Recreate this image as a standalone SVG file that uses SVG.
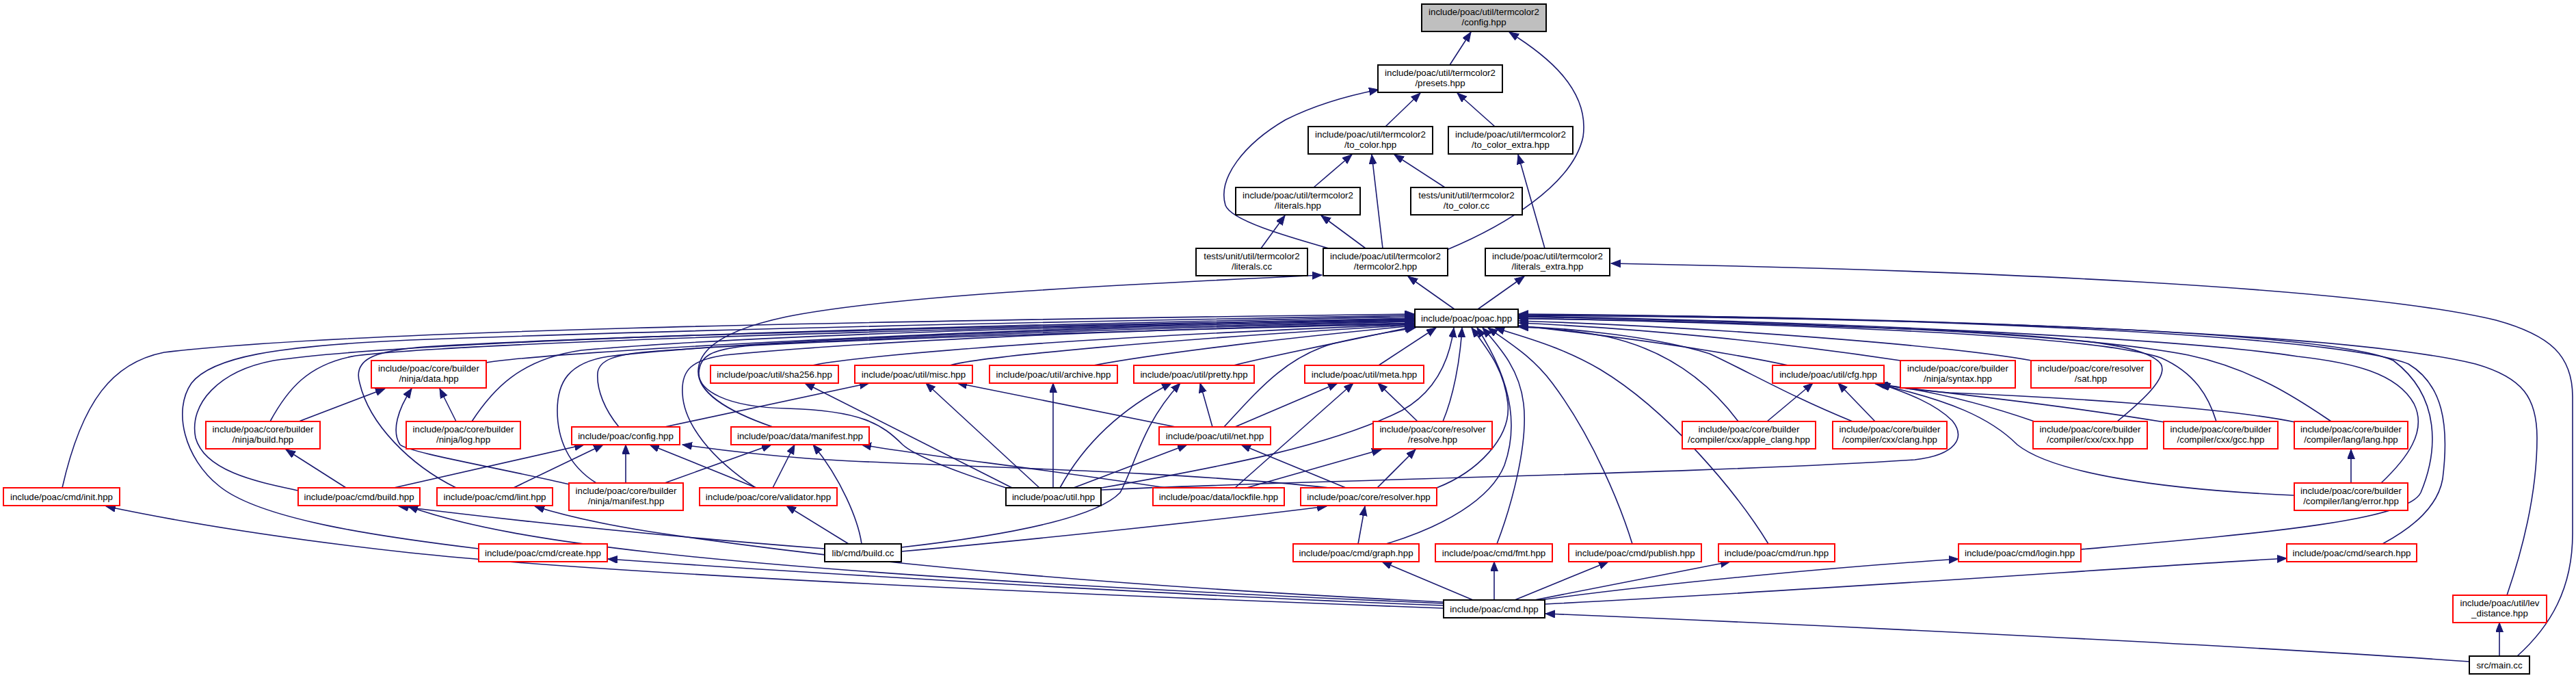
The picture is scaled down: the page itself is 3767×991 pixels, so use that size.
<svg xmlns="http://www.w3.org/2000/svg" width="3767" height="991" viewBox="0 0 3767 991">
<style>
.n rect{fill:#fff;stroke:#ff0000;stroke-width:2}
.n.b rect{stroke:#000}
.n.g rect{fill:#bfbfbf;stroke:#000}
text{font-family:"Liberation Sans",Arial,sans-serif;font-size:13.3px;text-anchor:middle;fill:#000}
#edges path{fill:none;stroke:#191970;stroke-width:1.6;marker-end:url(#ah)}
</style>
<defs>
<marker id="ah" markerUnits="userSpaceOnUse" markerWidth="16" markerHeight="12" refX="14" refY="5.5" orient="auto"><path d="M0,0 L14,5.5 L0,11 z" fill="#191970" stroke="#191970" stroke-width="1"/></marker>
</defs>
<rect width="3767" height="991" fill="#fff"/>
<g id="edges">
<path d="M2120,95 L2151,47"/>
<path d="M2116,365 C2200,330 2300,270 2315,200 C2325,130 2260,80 2207,47"/>
<path d="M2026,185 L2077,136"/>
<path d="M2186,185 L2131,136"/>
<path d="M1943,363 C1880,345 1800,322 1792,300 C1780,260 1820,210 1880,175 C1930,150 1980,138 2016,131"/>
<path d="M1921,274 L1977,226"/>
<path d="M2022,363 L2006,226"/>
<path d="M2113,274 L2039,226"/>
<path d="M2259,363 L2220,226"/>
<path d="M1844,363 L1879,315"/>
<path d="M1997,363 L1932,315"/>
<path d="M2127,452 L2059,404"/>
<path d="M2161,452 L2229,404"/>
<path d="M3681,959 C3730,915 3762,860 3762,780 L3762,580 C3762,520 3730,490 3650,468 C3450,420 2900,395 2356,385"/>
<path d="M91,713 C120,585 165,530 240,515 C500,484 1200,470 2068,459"/>
<path d="M700,802 C560,785 380,760 320,710 C270,670 252,600 280,560 C310,522 400,506 600,497 C1000,482 1600,469 2068,461"/>
<path d="M436,717 C380,705 300,690 286,640 C276,590 320,542 400,527 C600,497 1400,476 2068,463"/>
<path d="M395,616 C420,570 450,532 520,520 C700,498 1500,478 2068,465"/>
<path d="M667,713 C600,680 540,620 526,560 C516,526 545,513 620,507 C900,490 1500,476 2068,466"/>
<path d="M711,530 C800,515 1400,480 2068,467"/>
<path d="M690,616 C720,570 760,525 850,512 C1100,490 1600,476 2068,468"/>
<path d="M872,706 C830,680 815,640 815,600 C815,560 830,530 890,521 C1100,496 1600,479 2068,469"/>
<path d="M905,624 C885,600 872,570 874,545 C876,526 900,518 950,514 C1200,495 1700,479 2068,470"/>
<path d="M1105,713 C1040,670 1000,620 998,575 C996,540 1012,526 1060,519 C1300,496 1700,481 2068,472"/>
<path d="M1471,713 C1400,690 1340,668 1320,650 C1290,620 1260,600 1150,597 C1060,595 1021,570 1022,545 C1023,520 1040,510 1100,505 C1400,490 1800,480 2068,473"/>
<path d="M1130,624 C1060,600 1020,572 1021,542 C1022,510 1060,482 1150,463 C1300,433 1600,418 1933,402"/>
<path d="M1188,534 C1230,524 1500,496 2068,474"/>
<path d="M1389,534 C1430,522 1700,496 2068,475"/>
<path d="M1599,534 C1700,515 1900,492 2068,476"/>
<path d="M1804,534 C1880,515 1980,497 2068,477"/>
<path d="M1790,624 C1840,570 1880,522 1950,502 C2000,490 2040,484 2070,479"/>
<path d="M2016,534 L2100,479"/>
<path d="M2110,616 C2125,580 2135,530 2138,479"/>
<path d="M2101,713 C2160,690 2210,640 2205,590 C2200,540 2175,510 2152,479"/>
<path d="M1611,713 C1800,680 1950,650 2050,600 C2100,572 2120,525 2126,479"/>
<path d="M2027,795 C2110,770 2180,730 2200,680 C2225,610 2200,540 2160,479"/>
<path d="M2189,795 C2210,740 2235,650 2228,590 C2222,540 2195,510 2168,479"/>
<path d="M2387,795 C2370,740 2330,640 2270,560 C2240,520 2205,500 2176,479"/>
<path d="M2586,795 C2540,720 2440,600 2340,540 C2280,505 2225,492 2186,479"/>
<path d="M2615,534 C2500,510 2350,490 2221,476"/>
<path d="M2779,527 C2600,500 2400,480 2221,472"/>
<path d="M2971,527 C2850,505 2500,478 2221,469"/>
<path d="M2542,616 C2500,560 2440,512 2350,492 C2300,482 2260,479 2221,478"/>
<path d="M2709,616 C2620,580 2560,545 2500,517 C2420,492 2300,480 2221,477"/>
<path d="M3096,616 C3140,580 3170,550 3160,532 C3140,505 3050,495 2850,483 C2600,474 2400,467 2221,466"/>
<path d="M3241,616 C3230,580 3210,545 3160,523 C3080,496 2800,478 2221,465"/>
<path d="M3409,616 C3370,590 3300,540 3200,519 C3050,490 2700,472 2221,463"/>
<path d="M3482,706 C3520,670 3550,630 3530,590 C3505,545 3440,530 3360,521 C3200,496 2700,470 2221,462"/>
<path d="M3043,803 C3300,780 3520,762 3540,720 C3565,660 3570,580 3500,527 C3400,482 2800,465 2221,461"/>
<path d="M3484,795 C3530,770 3565,740 3572,700 C3582,620 3572,562 3522,532 C3420,490 2800,462 2221,460"/>
<path d="M3666,870 C3690,800 3710,720 3710,640 C3710,582 3690,552 3620,532 C3450,490 2900,465 2221,459"/>
<path d="M437,616 L563,568"/>
<path d="M667,616 L643,568"/>
<path d="M833,708 C720,682 600,662 585,650 C572,630 582,598 602,568"/>
<path d="M506,713 L418,657"/>
<path d="M576,713 L854,650"/>
<path d="M751,713 L882,650"/>
<path d="M915,706 L915,650"/>
<path d="M1106,713 L950,650"/>
<path d="M1944,713 C1700,686 1300,680 1180,670 C1100,664 1040,656 998,650"/>
<path d="M972,624 L1271,560"/>
<path d="M972,706 L1128,650"/>
<path d="M1130,713 L1162,650"/>
<path d="M1260,795 C1255,760 1230,700 1189,650"/>
<path d="M1705,713 C1500,682 1350,666 1260,650"/>
<path d="M1480,713 L1177,560"/>
<path d="M1520,713 L1354,560"/>
<path d="M1540,713 L1540,560"/>
<path d="M1550,713 C1590,640 1650,592 1713,560"/>
<path d="M1570,713 L1736,650"/>
<path d="M1611,716 C1900,702 2500,692 2800,672 C2860,665 2875,640 2855,615 C2830,590 2790,575 2750,561"/>
<path d="M1719,624 L1400,560"/>
<path d="M1773,624 L1755,560"/>
<path d="M1806,624 L1956,560"/>
<path d="M1318,800 C1450,785 1600,760 1638,720 C1660,680 1670,620 1726,560"/>
<path d="M1241,795 L1150,739"/>
<path d="M1206,802 C1000,786 800,767 583,740"/>
<path d="M1318,806 C1500,790 1800,758 1940,740"/>
<path d="M1806,713 L1979,560"/>
<path d="M1823,713 L2020,657"/>
<path d="M2073,616 L2015,560"/>
<path d="M1968,713 L1815,650"/>
<path d="M2014,713 L2070,657"/>
<path d="M1986,795 L1996,740"/>
<path d="M2111,889 C1600,870 900,840 600,808 C400,786 250,760 155,740"/>
<path d="M2111,882 C1600,860 1200,835 950,807 C800,790 680,770 597,740"/>
<path d="M2111,880 C1700,860 1300,830 950,777 C880,766 830,755 782,740"/>
<path d="M2111,885 C1700,870 1100,832 889,817"/>
<path d="M2154,877 L2021,821"/>
<path d="M2185,877 L2185,821"/>
<path d="M2215,877 L2352,821"/>
<path d="M2244,877 L2530,821"/>
<path d="M2252,877 C2450,850 2700,828 2864,817"/>
<path d="M2259,883 C2700,860 3100,830 3344,816"/>
<path d="M3611,967 C3300,945 2700,915 2260,897"/>
<path d="M3655,959 L3655,910"/>
<path d="M2584,616 L2651,560"/>
<path d="M2742,616 L2688,560"/>
<path d="M2975,616 C2900,590 2820,570 2742,561"/>
<path d="M3165,617 C3000,590 2850,575 2745,562"/>
<path d="M3356,617 C3250,595 3000,580 2850,574 C2800,570 2770,566 2746,561"/>
<path d="M3355,724 C3150,715 3000,690 2950,650 C2910,610 2850,585 2748,562"/>
<path d="M3438,706 L3438,657"/>
</g>
<g id="tc_config" class="n g"><rect x="2079" y="6" width="182" height="40"/><text x="2170" y="22">include/poac/util/termcolor2</text><text x="2170" y="37">/config.hpp</text></g>
<g id="tc_presets" class="n b"><rect x="2015" y="95" width="182" height="40"/><text x="2106" y="111">include/poac/util/termcolor2</text><text x="2106" y="126">/presets.hpp</text></g>
<g id="tc_to_color" class="n b"><rect x="1913" y="185" width="182" height="40"/><text x="2004" y="201">include/poac/util/termcolor2</text><text x="2004" y="216">/to_color.hpp</text></g>
<g id="tc_to_color_extra" class="n b"><rect x="2118" y="185" width="182" height="40"/><text x="2209" y="201">include/poac/util/termcolor2</text><text x="2209" y="216">/to_color_extra.hpp</text></g>
<g id="tc_literals" class="n b"><rect x="1807" y="274" width="182" height="40"/><text x="1898" y="290">include/poac/util/termcolor2</text><text x="1898" y="305">/literals.hpp</text></g>
<g id="tc_to_color_cc" class="n b"><rect x="2063" y="274" width="163" height="40"/><text x="2144.5" y="290">tests/unit/util/termcolor2</text><text x="2144.5" y="305">/to_color.cc</text></g>
<g id="tc_literals_cc" class="n b"><rect x="1749" y="363" width="163" height="40"/><text x="1830.5" y="379">tests/unit/util/termcolor2</text><text x="1830.5" y="394">/literals.cc</text></g>
<g id="tc_termcolor2" class="n b"><rect x="1935" y="363" width="182" height="40"/><text x="2026" y="379">include/poac/util/termcolor2</text><text x="2026" y="394">/termcolor2.hpp</text></g>
<g id="tc_literals_extra" class="n b"><rect x="2172" y="363" width="182" height="40"/><text x="2263" y="379">include/poac/util/termcolor2</text><text x="2263" y="394">/literals_extra.hpp</text></g>
<g id="poac_hpp" class="n b"><rect x="2069" y="452" width="151" height="26"/><text x="2144.5" y="469.5">include/poac/poac.hpp</text></g>
<g id="ninja_data" class="n"><rect x="543" y="527" width="168" height="40"/><text x="627" y="543">include/poac/core/builder</text><text x="627" y="558">/ninja/data.hpp</text></g>
<g id="sha256" class="n"><rect x="1039" y="534" width="187" height="26"/><text x="1132.5" y="551.5">include/poac/util/sha256.hpp</text></g>
<g id="misc" class="n"><rect x="1250" y="534" width="172" height="26"/><text x="1336" y="551.5">include/poac/util/misc.hpp</text></g>
<g id="archive" class="n"><rect x="1447" y="534" width="187" height="26"/><text x="1540.5" y="551.5">include/poac/util/archive.hpp</text></g>
<g id="pretty" class="n"><rect x="1658" y="534" width="176" height="26"/><text x="1746" y="551.5">include/poac/util/pretty.hpp</text></g>
<g id="meta" class="n"><rect x="1908" y="534" width="174" height="26"/><text x="1995" y="551.5">include/poac/util/meta.hpp</text></g>
<g id="cfg" class="n"><rect x="2592" y="534" width="163" height="26"/><text x="2673.5" y="551.5">include/poac/util/cfg.hpp</text></g>
<g id="ninja_syntax" class="n"><rect x="2779" y="527" width="168" height="40"/><text x="2863" y="543">include/poac/core/builder</text><text x="2863" y="558">/ninja/syntax.hpp</text></g>
<g id="resolver_sat" class="n"><rect x="2970" y="527" width="175" height="40"/><text x="3057.5" y="543">include/poac/core/resolver</text><text x="3057.5" y="558">/sat.hpp</text></g>
<g id="ninja_build" class="n"><rect x="301" y="616" width="167" height="40"/><text x="384.5" y="632">include/poac/core/builder</text><text x="384.5" y="647">/ninja/build.hpp</text></g>
<g id="ninja_log" class="n"><rect x="594" y="616" width="167" height="40"/><text x="677.5" y="632">include/poac/core/builder</text><text x="677.5" y="647">/ninja/log.hpp</text></g>
<g id="config" class="n"><rect x="836" y="624" width="158" height="26"/><text x="915" y="641.5">include/poac/config.hpp</text></g>
<g id="data_manifest" class="n"><rect x="1069" y="624" width="202" height="26"/><text x="1170" y="641.5">include/poac/data/manifest.hpp</text></g>
<g id="net" class="n"><rect x="1695" y="624" width="163" height="26"/><text x="1776.5" y="641.5">include/poac/util/net.hpp</text></g>
<g id="resolver_resolve" class="n"><rect x="2008" y="616" width="174" height="40"/><text x="2095" y="632">include/poac/core/resolver</text><text x="2095" y="647">/resolve.hpp</text></g>
<g id="apple_clang" class="n"><rect x="2460" y="616" width="195" height="40"/><text x="2557.5" y="632">include/poac/core/builder</text><text x="2557.5" y="647">/compiler/cxx/apple_clang.hpp</text></g>
<g id="clang" class="n"><rect x="2680" y="616" width="167" height="40"/><text x="2763.5" y="632">include/poac/core/builder</text><text x="2763.5" y="647">/compiler/cxx/clang.hpp</text></g>
<g id="cxx" class="n"><rect x="2973" y="616" width="167" height="40"/><text x="3056.5" y="632">include/poac/core/builder</text><text x="3056.5" y="647">/compiler/cxx/cxx.hpp</text></g>
<g id="gcc" class="n"><rect x="3164" y="616" width="167" height="40"/><text x="3247.5" y="632">include/poac/core/builder</text><text x="3247.5" y="647">/compiler/cxx/gcc.hpp</text></g>
<g id="lang" class="n"><rect x="3355" y="616" width="166" height="40"/><text x="3438" y="632">include/poac/core/builder</text><text x="3438" y="647">/compiler/lang/lang.hpp</text></g>
<g id="cmd_init" class="n"><rect x="5" y="713" width="170" height="26"/><text x="90" y="730.5">include/poac/cmd/init.hpp</text></g>
<g id="cmd_build" class="n"><rect x="436" y="713" width="178" height="26"/><text x="525" y="730.5">include/poac/cmd/build.hpp</text></g>
<g id="cmd_lint" class="n"><rect x="639" y="713" width="169" height="26"/><text x="723.5" y="730.5">include/poac/cmd/lint.hpp</text></g>
<g id="ninja_manifest" class="n"><rect x="832" y="706" width="167" height="40"/><text x="915.5" y="722">include/poac/core/builder</text><text x="915.5" y="737">/ninja/manifest.hpp</text></g>
<g id="validator" class="n"><rect x="1023" y="713" width="201" height="26"/><text x="1123.5" y="730.5">include/poac/core/validator.hpp</text></g>
<g id="util_hpp" class="n b"><rect x="1471" y="713" width="139" height="26"/><text x="1540.5" y="730.5">include/poac/util.hpp</text></g>
<g id="lockfile" class="n"><rect x="1686" y="713" width="192" height="26"/><text x="1782" y="730.5">include/poac/data/lockfile.hpp</text></g>
<g id="resolver_hpp" class="n"><rect x="1902" y="713" width="199" height="26"/><text x="2001.5" y="730.5">include/poac/core/resolver.hpp</text></g>
<g id="lang_error" class="n"><rect x="3355" y="706" width="166" height="40"/><text x="3438" y="722">include/poac/core/builder</text><text x="3438" y="737">/compiler/lang/error.hpp</text></g>
<g id="cmd_create" class="n"><rect x="700" y="795" width="188" height="26"/><text x="794" y="812.5">include/poac/cmd/create.hpp</text></g>
<g id="build_cc" class="n b"><rect x="1206" y="795" width="112" height="26"/><text x="1262" y="812.5">lib/cmd/build.cc</text></g>
<g id="cmd_graph" class="n"><rect x="1891" y="795" width="184" height="26"/><text x="1983" y="812.5">include/poac/cmd/graph.hpp</text></g>
<g id="cmd_fmt" class="n"><rect x="2099" y="795" width="171" height="26"/><text x="2184.5" y="812.5">include/poac/cmd/fmt.hpp</text></g>
<g id="cmd_publish" class="n"><rect x="2294" y="795" width="194" height="26"/><text x="2391" y="812.5">include/poac/cmd/publish.hpp</text></g>
<g id="cmd_run" class="n"><rect x="2513" y="795" width="170" height="26"/><text x="2598" y="812.5">include/poac/cmd/run.hpp</text></g>
<g id="cmd_login" class="n"><rect x="2864" y="795" width="179" height="26"/><text x="2953.5" y="812.5">include/poac/cmd/login.hpp</text></g>
<g id="cmd_search" class="n"><rect x="3344" y="795" width="190" height="26"/><text x="3439" y="812.5">include/poac/cmd/search.hpp</text></g>
<g id="lev_distance" class="n"><rect x="3587" y="870" width="137" height="40"/><text x="3655.5" y="886">include/poac/util/lev</text><text x="3655.5" y="901">_distance.hpp</text></g>
<g id="cmd_hpp" class="n b"><rect x="2111" y="877" width="148" height="26"/><text x="2185" y="894.5">include/poac/cmd.hpp</text></g>
<g id="main_cc" class="n b"><rect x="3611" y="959" width="88" height="26"/><text x="3655" y="976.5">src/main.cc</text></g>
</svg>
